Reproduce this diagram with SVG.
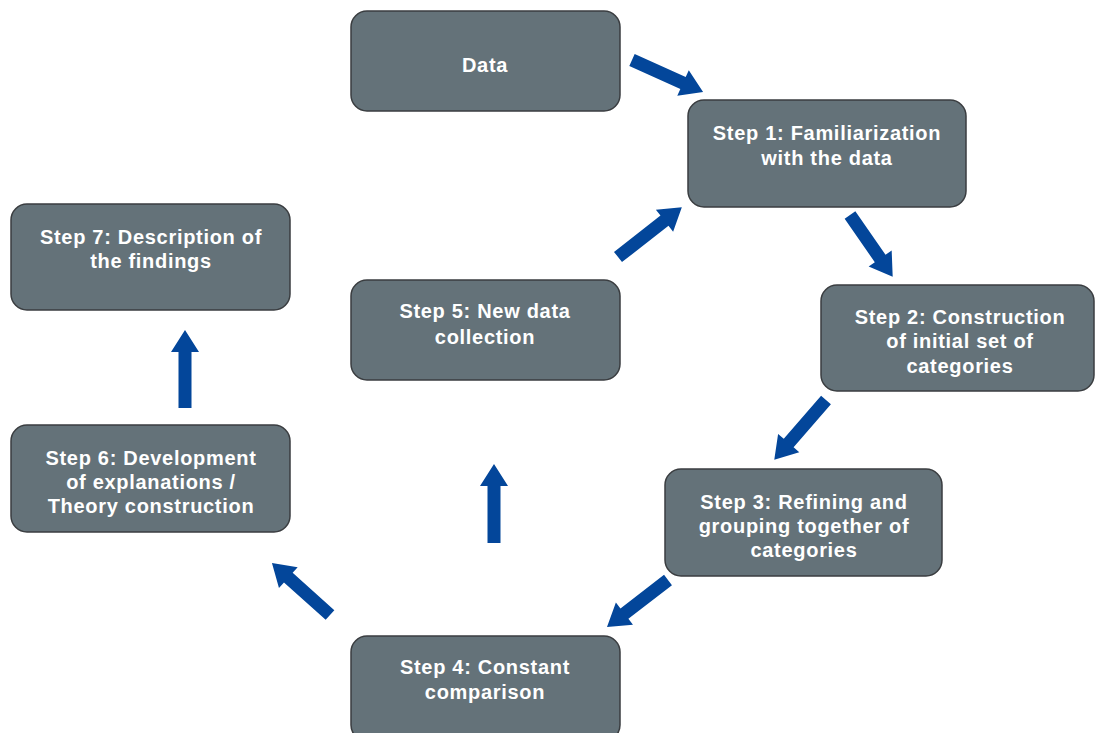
<svg xmlns="http://www.w3.org/2000/svg" width="1095" height="733" viewBox="0 0 1095 733">
<style>
.node rect{fill:#647279;stroke:#3a3d40;stroke-width:1.5}
.node text{fill:#ffffff;font-family:"Liberation Sans",Arial,sans-serif;font-weight:bold;font-size:20px;letter-spacing:0.7px;text-anchor:middle}
.arr{fill:#03469a}
</style>
<rect width="1095" height="733" fill="#ffffff"/>
<g id="connectors">
<polygon class="arr" transform="translate(632,60) rotate(24.3)" points="0,-6.5 56,-6.5 56,-14 78,0 56,14 56,6.5 0,6.5"/>
<polygon class="arr" transform="translate(850,215) rotate(55.3)" points="0,-6.5 53,-6.5 53,-14 75,0 53,14 53,6.5 0,6.5"/>
<polygon class="arr" transform="translate(826,400) rotate(130.9)" points="0,-6.5 57,-6.5 57,-14 79,0 57,14 57,6.5 0,6.5"/>
<polygon class="arr" transform="translate(668,580) rotate(142.4)" points="0,-6.5 55,-6.5 55,-14 77,0 55,14 55,6.5 0,6.5"/>
<polygon class="arr" transform="translate(330,615) rotate(221.9)" points="0,-6.5 56,-6.5 56,-14 78,0 56,14 56,6.5 0,6.5"/>
<polygon class="arr" transform="translate(494,543) rotate(-90)" points="0,-6.5 57,-6.5 57,-14 79,0 57,14 57,6.5 0,6.5"/>
<polygon class="arr" transform="translate(618,257) rotate(-38)" points="0,-6.5 59,-6.5 59,-14 81,0 59,14 59,6.5 0,6.5"/>
<polygon class="arr" transform="translate(185,408) rotate(-90)" points="0,-6.5 56,-6.5 56,-14 78,0 56,14 56,6.5 0,6.5"/>
</g>
<g id="data" class="node">
<rect x="351" y="11" width="269" height="100" rx="16"/>
<text x="485" y="72">Data</text>
</g>
<g id="step1" class="node">
<rect x="688" y="100" width="278" height="107" rx="16"/>
<text x="827" y="140">Step 1: Familiarization</text>
<text x="827" y="165">with the data</text>
</g>
<g id="step2" class="node">
<rect x="821" y="285" width="273" height="106" rx="16"/>
<text x="960" y="324">Step 2: Construction</text>
<text x="960" y="348">of initial set of</text>
<text x="960" y="373">categories</text>
</g>
<g id="step3" class="node">
<rect x="665" y="469" width="277" height="107" rx="16"/>
<text x="804" y="509">Step 3: Refining and</text>
<text x="804" y="533">grouping together of</text>
<text x="804" y="557">categories</text>
</g>
<g id="step4" class="node">
<rect x="351" y="636" width="269" height="105" rx="16"/>
<text x="485" y="674">Step 4: Constant</text>
<text x="485" y="699">comparison</text>
</g>
<g id="step5" class="node">
<rect x="351" y="280" width="269" height="100" rx="16"/>
<text x="485" y="318">Step 5: New data</text>
<text x="485" y="344">collection</text>
</g>
<g id="step6" class="node">
<rect x="11" y="425" width="279" height="107" rx="16"/>
<text x="151" y="465">Step 6: Development</text>
<text x="151" y="489">of explanations /</text>
<text x="151" y="513">Theory construction</text>
</g>
<g id="step7" class="node">
<rect x="11" y="204" width="279" height="106" rx="16"/>
<text x="151" y="244">Step 7: Description of</text>
<text x="151" y="268">the findings</text>
</g>
</svg>
